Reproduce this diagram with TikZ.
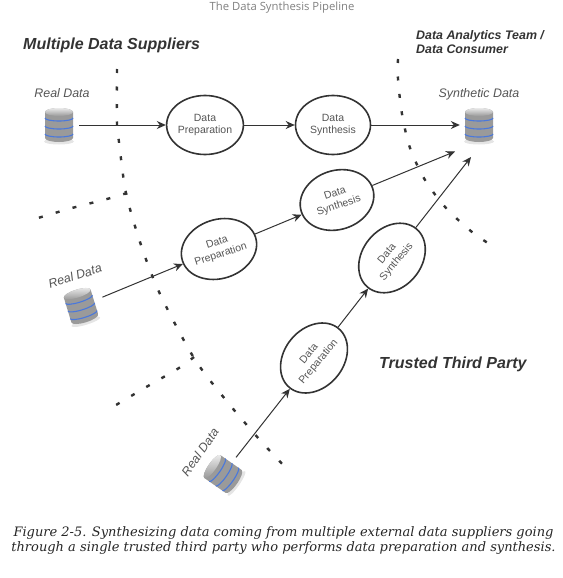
\documentclass[tikz,border=0pt]{standalone}
\usepackage{fontspec}
\setmainfont{Liberation Sans}
\newfontfamily\titlefont{Open Sans}
\newfontfamily\capfont{DejaVu Serif}
\usetikzlibrary{shapes.geometric,arrows.meta}
\definecolor{ink}{HTML}{333333}
\definecolor{soft}{HTML}{555555}
\definecolor{band}{HTML}{4A78DC}
\definecolor{dbedge}{HTML}{9A9A9A}
\definecolor{dbmid}{HTML}{EAEAEA}
\tikzset{
  x=1pt,y=-1pt,
  proc/.style={ellipse,draw=ink,line width=1.6pt,inner sep=0pt,align=center,text=soft,
     font=\fontsize{10.5}{12.5}\selectfont},
  flow/.style={draw=ink,line width=1pt,-{Stealth[length=9pt,width=8pt]}},
  boundary/.style={draw=ink,line width=2.4pt,dash pattern=on 4pt off 13.5pt},
  head/.style={font=\fontsize{16}{18}\selectfont\bfseries\itshape,text=ink,inner sep=0pt},
  datalabel/.style={font=\fontsize{12.4}{14}\selectfont\itshape,text=soft,inner sep=0pt},
  dbanchor/.style={circle,inner sep=0pt,draw=none},
  db/.pic={
    \fill[black,opacity=.10] (0pt,-16.5pt) ellipse[x radius=15pt,y radius=3pt];
    \shade[left color=dbedge,middle color=dbmid,right color=dbedge]
      (-14pt,13pt) -- (-14pt,-13pt) arc[start angle=180,end angle=360,x radius=14pt,y radius=4pt]
      -- (14pt,13pt) arc[start angle=0,end angle=180,x radius=14pt,y radius=4pt] -- cycle;
    \shade[top color=dbmid,bottom color=dbedge] (0pt,13pt) ellipse[x radius=14pt,y radius=4pt];
    \foreach \yy in {7pt,-1pt,-9pt}{
      \draw[band,line width=1.1pt] (-14pt,\yy) arc[start angle=180,end angle=360,x radius=14pt,y radius=3pt];
    }
  }
}
\begin{document}
\begin{tikzpicture}
\useasboundingbox (0,0) rectangle (562,578);
% titles
\node[text=gray,font=\titlefont\fontsize{11.3}{13}\selectfont,inner sep=0pt] (title) at (282,7.5) {The Data Synthesis Pipeline};
\node[head,anchor=west] (suppliers) at (23,45.5) {Multiple Data Suppliers};
\node[head,anchor=west] (trusted) at (379,364) {Trusted Third Party};
\node[head,anchor=north west,align=left,font=\fontsize{12.4}{14.5}\selectfont\bfseries\itshape] (team) at (416,30) {Data Analytics Team /\\Data Consumer};
% trust boundaries
\draw[boundary,line join=round] plot[smooth] coordinates {(117,69) (117,125) (119,142) (126,193) (141,245) (160,294) (194,358) (225,399) (259,439) (287,469)};
\draw[boundary] plot[smooth] coordinates {(127,193) (107,199) (72,208) (38,218)};
\draw[boundary] plot[smooth] coordinates {(194,357) (179,368) (148,386) (116,405)};
\draw[boundary] plot[smooth] coordinates {(398,59) (398,79) (402,114) (410,148) (425,180) (446,208) (472,232) (491,245)};
% stores
\pic at (59,125) {db};
\pic[rotate=17] at (81,306) {db};
\pic[rotate=55] at (223,474) {db};
\pic at (479,125) {db};
\node[dbanchor,minimum size=40pt] (real1) at (59,125) {};
\node[dbanchor,minimum size=46pt] (real2) at (81,306) {};
\node[dbanchor,minimum size=42pt] (real3) at (223,474) {};
\node[dbanchor,minimum size=38pt] (synth) at (479,125) {};
\node[datalabel] (l1) at (62,93) {Real Data};
\node[datalabel,rotate=18] (l2) at (75,276) {Real Data};
\node[datalabel,rotate=55] (l3) at (200,452) {Real Data};
\node[datalabel] (l4) at (479,94) {Synthetic Data};
% processes
\node[proc,minimum width=76pt,minimum height=59pt] (prep1) at (205,125) {Data\\Preparation};
\node[proc,minimum width=75pt,minimum height=59pt] (syn1) at (333,125) {Data\\Synthesis};
\node[proc,minimum width=75pt,minimum height=59pt,rotate=18] (prep2) at (219,249) {Data\\Preparation};
\node[proc,minimum width=75pt,minimum height=59pt,rotate=18] (syn2) at (337,200) {Data\\Synthesis};
\node[proc,minimum width=76pt,minimum height=59pt,rotate=50] (prep3) at (314,358) {Data\\Preparation};
\node[proc,minimum width=76pt,minimum height=59pt,rotate=50] (syn3) at (392,258) {Data\\Synthesis};
% free ends
\coordinate (in2) at (455,151.5);
\coordinate (in3) at (471,157);
% connectors
\draw[flow] (real1) -- (prep1);
\draw[flow] (prep1) -- (syn1);
\draw[flow] (syn1) -- (synth);
\draw[flow] (real2) -- (prep2);
\draw[flow] (prep2) -- (syn2);
\draw[flow] (syn2) -- (in2);
\draw[flow] (real3) -- (prep3);
\draw[flow] (prep3) -- (syn3);
\draw[flow] (syn3) -- (in3);
% caption
\node[align=center,inner sep=0pt,text=black!85,font=\capfont\itshape\fontsize{13}{15}\selectfont] (caption) at (283.5,540.5)
 {Figure 2-5. Synthesizing data coming from multiple external data suppliers going\\through a single trusted third party who performs data preparation and synthesis.};
\end{tikzpicture}
\end{document}
